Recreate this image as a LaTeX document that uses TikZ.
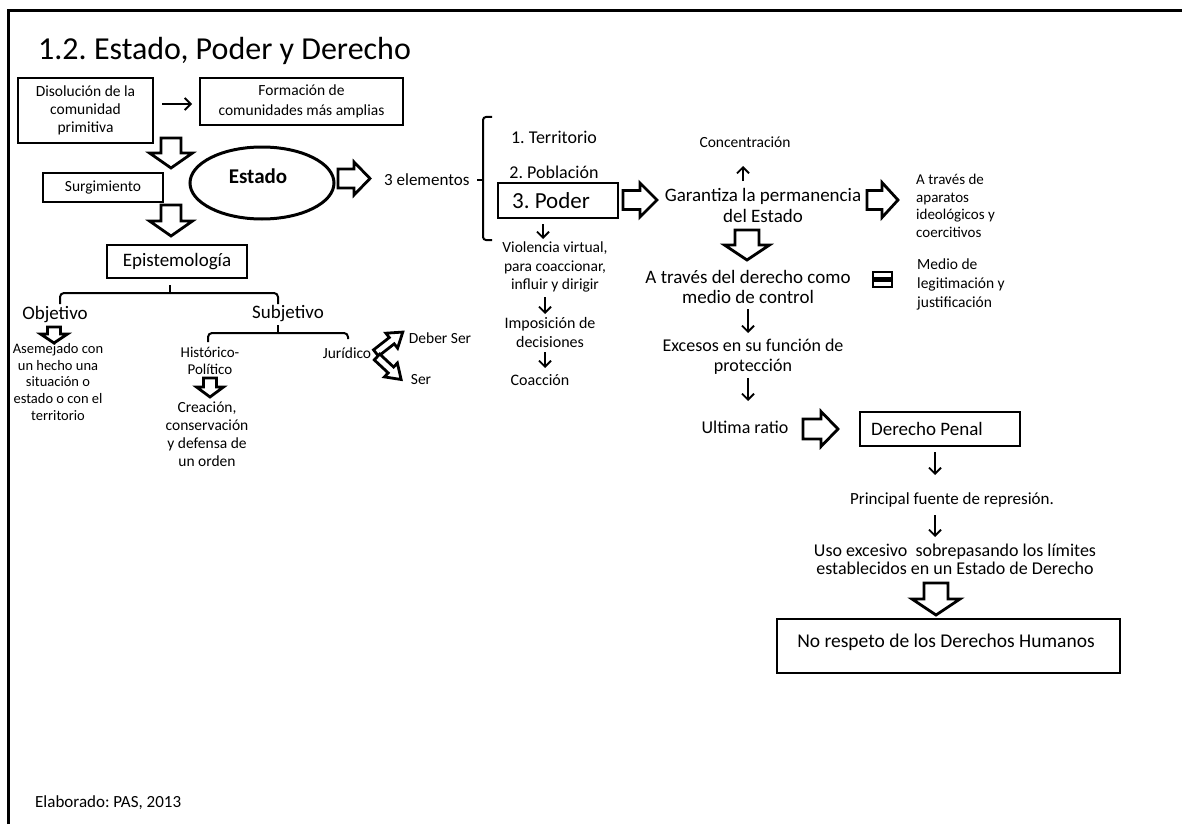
\documentclass[tikz,border=0pt]{standalone}
\usepackage{fontspec}
\setmainfont{Carlito}
\usetikzlibrary{arrows.meta,shapes.geometric}
\newcommand\fsz[2]{\fontsize{#1}{#2}\selectfont}
\frenchspacing
\begin{document}
\begin{tikzpicture}[x=1pt,y=-1pt,
  box/.style={draw, line width=1.3pt, inner sep=0pt, align=center},
  txt/.style={inner sep=0pt, align=center},
  thinarrow/.style={line width=1.8pt, -{Straight Barb[length=6pt,width=12pt]}},
  brace/.style={line width=2pt, rounded corners=4pt},
  blk/.style={draw, fill=white, line width=2.8pt, line join=miter},
  pics/blockarrow/.style args={#1/#2/#3/#4}{code={
    \draw[blk] (0,-#2/2) -- (#1-#4,-#2/2) -- (#1-#4,-#3/2) -- (#1,0)
      -- (#1-#4,#3/2) -- (#1-#4,#2/2) -- (0,#2/2) -- cycle;}}
]
\useasboundingbox (0,0) rectangle (1182,824);
\fill[white] (0,0) rectangle (1182,824);
% slide frame
\draw[line width=3.5pt] (8.5,824) -- (8.5,10.5) -- (1182,10.5);

% title
\node[anchor=base west, inner sep=0pt, font=\fsz{32}{38}] (title) at (38,60) {1.2. Estado, Poder y Derecho};

% origin of the state
\node[box, minimum width=135, minimum height=65, font=\fsz{15.5}{18}] (disol) at (85.5,110.5) {Disolución de la\\comunidad\\primitiva};
\node[box, minimum width=203, minimum height=47, font=\fsz{15.5}{20}] (form) at (301.5,101.5) {Formación de\\comunidades más amplias};
\coordinate (d1) at (162,104);
\coordinate (d2) at (192,104);
\draw[thinarrow] (d1) -- (d2);
\pic[rotate=-90] at (171,138) {blockarrow=30/20/43/15};

\node[draw, ellipse, line width=3pt, minimum width=144, minimum height=72] (estado) at (262,183) {};
\node[txt, font=\bfseries\fsz{21}{25}] (estadot) at (258,176) {Estado};
\node[box, minimum width=120, minimum height=29, font=\fsz{15.5}{18}] (surg) at (103,187.5) {Surgimiento};
\pic[rotate=-90] at (171,205) {blockarrow=31/20/43/15};

% epistemology branch
\node[box, minimum width=140, minimum height=33, font=\fsz{19}{22}] (epis) at (177,261.5) {Epistemología};
\draw[brace] (60,304) |- (170,293);
\draw[brace] (278,304) |- (170,293);
\draw[line width=2pt] (170,293) -- (170,285);
\node[txt, font=\fsz{19}{22}] (obj) at (55,315) {Objetivo};
\node[txt, font=\fsz{19}{22}] (subj) at (288,314) {Subjetivo};
\pic[rotate=-90] at (54,327) {blockarrow=16/13/27/9};
\node[txt, font=\fsz{14.5}{16.7}] (asem) at (58,382) {Asemejado con\\un hecho una\\situación o\\estado o con el\\territorio};

\draw[line width=2pt] (278,325) -- (278,333);
\draw[brace] (208,342) |- (278,333);
\draw[brace] (348,339) |- (278,333);
\node[txt, font=\fsz{15}{17}] (hist) at (210,361) {Histórico-\\Político};
\pic[rotate=-90] at (210,378) {blockarrow=19/13/27/10};
\node[txt, font=\fsz{15.5}{18}] (crea) at (207,434.5) {Creación,\\conservación\\y defensa de\\un orden};
\node[txt, font=\fsz{15.5}{18}] (jur) at (347,353) {Jurídico};
\pic[rotate=38] at (376,353) {blockarrow=34/8/19/14};
\pic[rotate=-43] at (377,357) {blockarrow=33/8/19/14};
\node[txt, font=\fsz{15.5}{18}] (deber) at (440,338) {Deber Ser};
\node[txt, font=\fsz{15.5}{18}] (ser) at (421,380) {Ser};

% three elements
\pic at (338,178.5) {blockarrow=32/19/33/16};
\node[anchor=west, inner sep=0pt, font=\fsz{17}{20}] (tres) at (384,180) {3 elementos};
\draw[line width=2pt, rounded corners=3pt] (492,117) -- (483,117) -- (483,240) -- (492,240);
\draw[line width=2pt] (483,180) -- (477,180);
\node[txt, font=\fsz{18}{21}] (terr) at (554,137) {1. Territorio};
\node[txt, font=\fsz{18}{21}] (pobl) at (554,172) {2. Población};
\node[box, minimum width=120, minimum height=35] (poder) at (558,200.5) {};
\node[txt, font=\fsz{23}{26}] (podert) at (551,201) {3. Poder};

\coordinate (p1) at (543,224);
\coordinate (p2) at (543,239);
\draw[thinarrow] (p1) -- (p2);
\node[txt, font=\fsz{15.5}{18.5}] (viol) at (555,267) {Violencia virtual,\\para coaccionar,\\influir y dirigir};
\coordinate (v1) at (545,297);
\coordinate (v2) at (545,314);
\draw[thinarrow] (v1) -- (v2);
\node[txt, font=\fsz{16}{19}] (impo) at (550,333) {Imposición de\\decisiones};
\coordinate (i1) at (545,352);
\coordinate (i2) at (545,368);
\draw[thinarrow] (i1) -- (i2);
\node[txt, font=\fsz{16}{19}] (coac) at (540,380) {Coacción};

% power guarantees the state
\pic at (623,200) {blockarrow=34/19/34/17};
\node[txt, font=\fsz{19}{21}] (gara) at (763,205.5) {Garantiza la permanencia\\del Estado};
\node[txt, font=\fsz{15.5}{18}] (conc) at (745,142) {Concentración};
\coordinate (c1) at (743,181);
\coordinate (c2) at (743,166);
\draw[thinarrow] (c1) -- (c2);
\pic at (867,200) {blockarrow=31/19/35/16};
\node[anchor=west, inner sep=0pt, align=left, font=\fsz{15}{17.5}] (apar) at (916,206) {A través de\\aparatos\\ideológicos y\\coercitivos};
\pic[rotate=-90] at (747,230) {blockarrow=30/24/45/15};
\node[txt, font=\fsz{19}{20}] (dere) at (748,287) {A través del derecho como\\medio de control};
\draw[line width=2.6pt] (873,272) rectangle (892,278.5);
\draw[line width=2.6pt] (873,280.5) rectangle (892,287);
\node[anchor=west, inner sep=0pt, align=left, font=\fsz{15.5}{19}] (medio) at (917,284) {Medio de\\legitimación y\\justificación};

\coordinate (e1) at (748,309);
\coordinate (e2) at (748,333);
\draw[thinarrow] (e1) -- (e2);
\node[txt, font=\fsz{18}{20}] (exce) at (753,357) {Excesos en su función de\\protección};
\coordinate (u1) at (748,378);
\coordinate (u2) at (748,401);
\draw[thinarrow] (u1) -- (u2);
\node[txt, font=\fsz{18}{20}] (ulti) at (745,427) {Ultima ratio};
\pic at (803,429) {blockarrow=35/20/35/17};
\node[box, minimum width=160, minimum height=34] (penal) at (940,429) {};
\node[txt, font=\fsz{19}{22}] (penalt) at (927,429) {Derecho Penal};

\coordinate (r1) at (935,452);
\coordinate (r2) at (935,475);
\draw[thinarrow] (r1) -- (r2);
\node[txt, font=\fsz{17}{20}] (prin) at (952,500) {Principal fuente de represión.};
\coordinate (s1) at (935,515);
\coordinate (s2) at (935,537);
\draw[thinarrow] (s1) -- (s2);
\node[txt, font=\fsz{18}{18}] (uso) at (955,559) {Uso excesivo\ \ sobrepasando los límites\\establecidos en un Estado de Derecho};
\pic[rotate=-90] at (936,583) {blockarrow=32/24/48/16};
\node[box, minimum width=343, minimum height=54] (dh) at (948.5,646) {};
\node[txt, font=\fsz{19.5}{22}] (dht) at (946,642) {No respeto de los Derechos Humanos};

% credit line
\node[anchor=west, inner sep=0pt, font=\fsz{17}{20}] (credit) at (35,803) {Elaborado: PAS, 2013};
\end{tikzpicture}
\end{document}
